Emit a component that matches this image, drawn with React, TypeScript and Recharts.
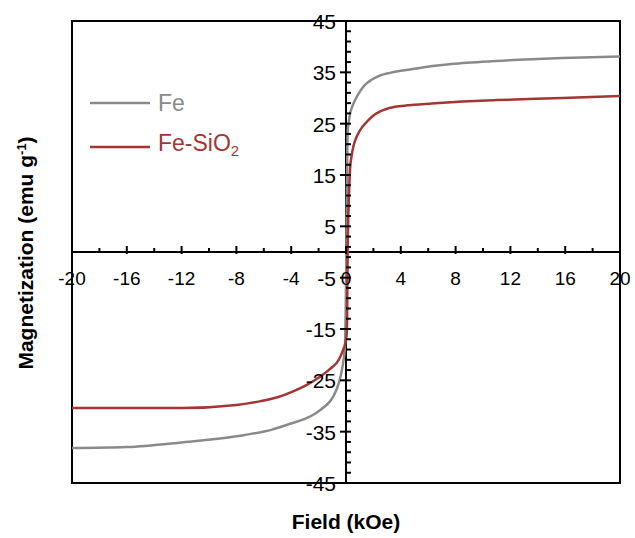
import React from 'react';
import { LineChart, Line, XAxis, YAxis, ReferenceLine, ReferenceArea, Legend } from 'recharts';

// ---- data ----
const feField = [-20, -16, -12, -8, -5.4, -3.9, -3.0, -2.2, -1.6, -1.2, -0.9, -0.65, -0.45, -0.3, -0.18, -0.1, -0.05, -0.02, 0, 0.03, 0.06, 0.09, 0.12, 0.2, 0.3, 0.45, 0.7, 1.0, 1.4, 1.9, 2.5, 3.2, 4.0, 5.0, 6.5, 8.5, 12.2, 15.8, 20];
const feMag = [-38.2, -38.0, -37.1, -35.9, -34.6, -33.3, -32.5, -31.4, -30.2, -29.2, -28.0, -26.5, -24.8, -23.0, -21.0, -19.2, -16, -11, -6, 2, 10, 18, 23.5, 25.3, 27.0, 28.3, 29.8, 31.2, 32.6, 33.6, 34.4, 34.9, 35.3, 35.7, 36.3, 36.8, 37.4, 37.8, 38.1];
const sio2Field = [-20, -16, -12, -8, -6.3, -5, -3.9, -2.8, -1.9, -1.4, -1.0, -0.68, -0.4, -0.2, -0.05, 0.05, 0.08, 0.1, 0.12, 0.15, 0.22, 0.3, 0.4, 0.55, 0.8, 1.2, 1.6, 2.0, 2.5, 3.0, 3.9, 5.0, 6.1, 8.5, 11, 15.8, 20];
const sio2Mag = [-30.4, -30.4, -30.4, -29.8, -29.1, -28.3, -27.2, -25.8, -24.3, -23.3, -22.4, -21.6, -20.3, -19.0, -17.8, -16.0, -13, -6, 0, 4.8, 11.4, 16.3, 18.6, 20.7, 22.6, 24.4, 25.6, 26.6, 27.4, 27.9, 28.4, 28.7, 28.9, 29.3, 29.6, 30.0, 30.4];

const xTicks = [-20, -18, -16, -14, -12, -10, -8, -6, -4, -2, 0, 2, 4, 6, 8, 10, 12, 14, 16, 18, 20];
const yTicks = [-45, -43, -41, -39, -37, -35, -33, -31, -29, -27, -25, -23, -21, -19, -17, -15, -13, -11, -9, -7, -5, -3, -1, 1, 3, 5, 7, 9, 11, 13, 15, 17, 19, 21, 23, 25, 27, 29, 31, 33, 35, 37, 39, 41, 43, 45];
const X_DOMAIN = [-20, 20];
const Y_DOMAIN = [-45, 45];

const feData = feField.map((h, i) => ({ h, m: feMag[i] }));
const sio2Data = sio2Field.map((h, i) => ({ h, m: sio2Mag[i] }));

// ---- layout ----
const W = 635;
const H = 538;
const AXIS_SIZE = 10;
const M = { top: 21, right: 15, bottom: 55 - AXIS_SIZE, left: 72 - AXIS_SIZE };
const PLOT_LEFT = 72;
const PLOT_TOP = 21;
const PW = W - PLOT_LEFT - M.right;
const PH = H - PLOT_TOP - 55;
const zeroY = PLOT_TOP + (PH * (Y_DOMAIN[1] - 0)) / (Y_DOMAIN[1] - Y_DOMAIN[0]);
const zeroX = PLOT_LEFT + (PW * (0 - X_DOMAIN[0])) / (X_DOMAIN[1] - X_DOMAIN[0]);

const FE_COLOR = '#8a8a8a';
const SIO2_COLOR = '#a33634';
const FONT = '"Liberation Sans", Arial, sans-serif';

const renderXTick = (props: any) => {
  const { x, payload } = props;
  const v = payload.value;
  const major = v % 4 === 0;
  return (
    <g key={`xt-${v}`}>
      <line x1={x} x2={x} y1={zeroY - (major ? 6 : 4)} y2={zeroY + (major ? 2 : 0)} stroke="#000" strokeWidth={2} />
      {major && (
        <text x={x} y={zeroY + 33} textAnchor="middle" fontSize={19} fill="#000" fontFamily={FONT}>
          {v}
        </text>
      )}
    </g>
  );
};

const renderYTick = (props: any) => {
  const { y, payload } = props;
  const v = payload.value;
  const major = (v + 45) % 10 === 0;
  return (
    <g key={`yt-${v}`}>
      <line x1={zeroX - (major ? 6 : 0)} x2={zeroX + 5} y1={y} y2={y} stroke="#000" strokeWidth={2} />
      {major && (
        <text x={zeroX - 10} y={y + 8} textAnchor="end" fontSize={21} fill="#000" fontFamily={FONT}>
          {v}
        </text>
      )}
    </g>
  );
};

const LegendContent = () => {
  const rows = [
    { name: 'Fe', color: FE_COLOR, sub: null },
    { name: 'Fe-SiO', color: SIO2_COLOR, sub: '2' },
  ];
  return (
    <div style={{ fontFamily: FONT }}>
      {rows.map((r) => (
        <div key={r.name} style={{ display: 'flex', alignItems: 'center', height: 44 }}>
          <svg width={68} height={10} style={{ display: 'block' }}>
            <line x1={0} x2={60} y1={5} y2={5} stroke={r.color} strokeWidth={2.5} />
          </svg>
          <span style={{ color: r.color, fontSize: 23, lineHeight: '23px', whiteSpace: 'nowrap' }}>
            {r.name}
            {r.sub && <sub style={{ fontSize: 15, verticalAlign: -5 }}>{r.sub}</sub>}
          </span>
        </div>
      ))}
    </div>
  );
};

export default function App() {
  return (
    <div style={{ position: 'absolute', left: 0, top: 0, width: W, height: H, background: '#fff' }}>
      <LineChart width={W} height={H} margin={M} style={{ fontFamily: FONT }}>
        <XAxis
          type="number"
          dataKey="h"
          domain={X_DOMAIN}
          ticks={xTicks}
          interval={0}
          height={AXIS_SIZE}
          axisLine={false}
          tickLine={false}
          tick={renderXTick}
          allowDataOverflow
        />
        <YAxis
          type="number"
          dataKey="m"
          domain={Y_DOMAIN}
          ticks={yTicks}
          interval={0}
          width={AXIS_SIZE}
          axisLine={false}
          tickLine={false}
          tick={renderYTick}
          allowDataOverflow
        />
        <ReferenceArea x1={-20} x2={20} y1={-45} y2={45} fill="none" stroke="#000" strokeWidth={2} ifOverflow="visible" />
        <ReferenceLine y={0} stroke="#000" strokeWidth={2} />
        <ReferenceLine x={0} stroke="#000" strokeWidth={2} />
        <Legend
          layout="vertical"
          align="center"
          verticalAlign="middle"
          content={<LegendContent />}
          wrapperStyle={{ left: 90, top: 81, width: 200, height: 88 }}
        />
        <Line data={feData} dataKey="m" type="monotone" stroke={FE_COLOR} strokeWidth={2.5} dot={false} isAnimationActive={false} />
        <Line data={sio2Data} dataKey="m" type="monotone" stroke={SIO2_COLOR} strokeWidth={2.5} dot={false} isAnimationActive={false} />
      </LineChart>
      <svg width={W} height={H} style={{ position: 'absolute', left: 0, top: 0, pointerEvents: 'none' }}>
        <text x={346} y={529} textAnchor="middle" fontSize={21} fontWeight="bold" fontFamily={FONT} fill="#000">
          Field (kOe)
        </text>
        <text
          x={33}
          y={253}
          textAnchor="middle"
          fontSize={21}
          fontWeight="bold"
          fontFamily={FONT}
          fill="#000"
          transform="rotate(-90, 33, 253)"
        >
          Magnetization (emu g<tspan dy={-7} fontSize={13}>-1</tspan><tspan dy={7}>)</tspan>
        </text>
      </svg>
    </div>
  );
}
